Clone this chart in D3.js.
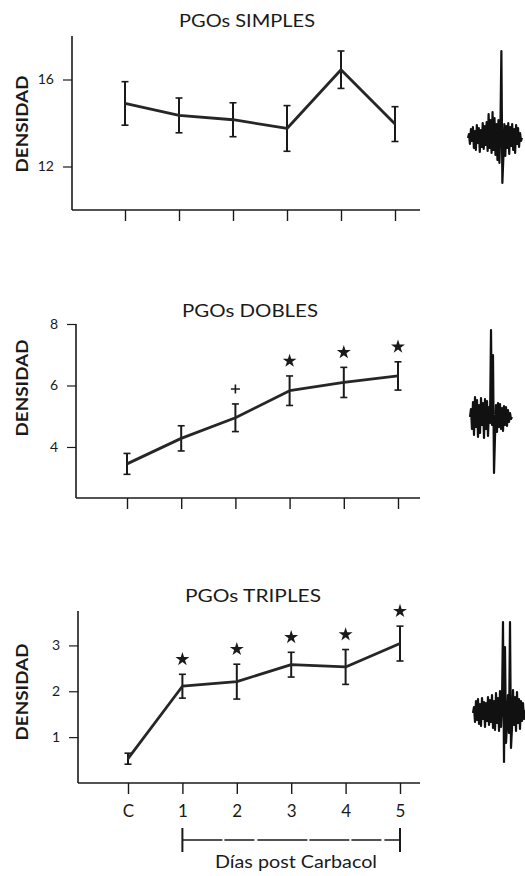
<!DOCTYPE html>
<html><head><meta charset="utf-8">
<script src="https://cdn.jsdelivr.net/npm/d3@7"></script>
<style>
html,body{margin:0;padding:0;background:#fff;}
svg{display:block;}
text{font-family:"Lato","Open Sans",sans-serif;fill:#1a1a1a;}
</style></head>
<body>
<svg id="c" width="525" height="876"></svg>
<script>
// ---------- data ----------
const days = ["C", "1", "2", "3", "4", "5"];

const simplesTitle = "PGOs SIMPLES";
const simplesMean = [14.9, 14.35, 14.15, 13.75, 16.45, 13.95];
const simplesErr  = [1.0, 0.8, 0.78, 1.05, 0.86, 0.8];
const simplesTicks = [12, 16];
const simplesDomain = [10, 18];
const simplesMarks = ["", "", "", "", "", ""];

const doblesTitle = "PGOs DOBLES";
const doblesMean = [3.45, 4.28, 4.95, 5.83, 6.1, 6.31];
const doblesErr  = [0.34, 0.41, 0.45, 0.48, 0.49, 0.46];
const doblesTicks = [4, 6, 8];
const doblesDomain = [2.34, 8];
const doblesMarks = ["", "", "+", "*", "*", "*"];

const triplesTitle = "PGOs TRIPLES";
const triplesMean = [0.53, 2.11, 2.21, 2.58, 2.53, 3.04];
const triplesErr  = [0.12, 0.26, 0.38, 0.27, 0.38, 0.38];
const triplesTicks = [1, 2, 3];
const triplesDomain = [0, 3.75];
const triplesMarks = ["", "*", "*", "*", "*", "*"];

const yLabel = "DENSIDAD";
const xLabel = "Días post Carbacol";

// example PGO waveforms (traced amplitudes, 1 sample per px)
const waveSimple = [0,4,-6,9,-3,11,-10,7,-12,13,-5,10,-14,8,-9,15,-11,12,-7,16,-13,24,-10,18,-15,26,-12,20,-17,14,-22,18,-25,10,87,-45,-20,14,-18,12,-10,15,-16,11,-8,14,-12,9,-15,13,-6,10,-9,5,-3,0];
const waveDoble = [0,8,-12,15,-18,20,-10,17,-20,12,-16,19,-8,14,-21,18,-12,16,-19,10,-6,87,-8,62,-56,-20,12,-15,14,-10,13,-12,9,-14,11,-8,10,-9,7,-5,4,-2,0];
const waveTriple = [0,6,-9,12,-7,14,-11,9,-13,15,-6,11,-14,10,-8,16,-12,13,-9,18,-15,12,-17,20,-10,15,-18,22,-14,10,91,-49,66,-30,-12,18,-20,91,-35,-15,23,-12,16,-18,21,-10,14,-16,12,-8,10,-6,3];

// ---------- layout ----------
const panels = [
  {title: simplesTitle, mean: simplesMean, err: simplesErr, ticks: simplesTicks, domain: simplesDomain, marks: simplesMarks,
   titleX: 247, titleY: 20, axisX: 72, xAxisY: 210, yTop: 36, x0: 125, x1: 395, labelY: 124, showX: false,
   wave: waveSimple, wx0: 468, wx1: 522, wBase: 138},
  {title: doblesTitle, mean: doblesMean, err: doblesErr, ticks: doblesTicks, domain: doblesDomain, marks: doblesMarks,
   titleX: 250, titleY: 310, axisX: 76, xAxisY: 498, yTop: 324, x0: 127, x1: 398, labelY: 388, showX: false,
   wave: waveDoble, wx0: 470, wx1: 512, wBase: 417},
  {title: triplesTitle, mean: triplesMean, err: triplesErr, ticks: triplesTicks, domain: triplesDomain, marks: triplesMarks,
   titleX: 253, titleY: 595, axisX: 78, xAxisY: 783, yTop: 611, x0: 128, x1: 400, labelY: 692, showX: true,
   wave: waveTriple, wx0: 473, wx1: 525, wBase: 713}
];
const axisRight = 420;
const ink = "#1a1a1a";

const svg = d3.select("#c");

panels.forEach(p => {
  const g = svg.append("g");
  const x = d3.scalePoint().domain(days).range([p.x0, p.x1]);
  const y = d3.scaleLinear().domain(p.domain).range([p.xAxisY, p.yTop]);

  // title
  g.append("text").attr("x", p.titleX).attr("y", p.titleY + 6.5)
    .attr("text-anchor", "middle").attr("font-size", 17)
    .attr("textLength", 136).attr("lengthAdjust", "spacingAndGlyphs")
    .text(p.title);

  // y label
  g.append("text").attr("transform", `translate(${27.5},${p.labelY}) rotate(-90)`)
    .attr("text-anchor", "middle").attr("font-size", 17).attr("font-weight", 700)
    .attr("textLength", 97).attr("lengthAdjust", "spacingAndGlyphs")
    .text(yLabel);

  // axes lines
  g.append("line").attr("x1", p.axisX).attr("x2", p.axisX)
    .attr("y1", y.range()[1]).attr("y2", p.xAxisY)
    .attr("stroke", ink).attr("stroke-width", 1.6);
  g.append("line").attr("x1", p.axisX).attr("x2", axisRight)
    .attr("y1", p.xAxisY).attr("y2", p.xAxisY)
    .attr("stroke", ink).attr("stroke-width", 1.4);

  // y axis ticks
  const ya = g.append("g").attr("transform", `translate(${p.axisX},0)`)
    .call(d3.axisLeft(y).tickValues(p.ticks).tickSize(9).tickPadding(9).tickFormat(d3.format("d")));
  ya.select(".domain").remove();
  ya.selectAll("line").attr("stroke", ink).attr("stroke-width", 1.2);
  ya.selectAll("text").attr("font-size", 14).attr("fill", ink).attr("font-family", "Lato, sans-serif");

  // x axis ticks
  const xa = g.append("g").attr("transform", `translate(0,${p.xAxisY})`)
    .call(d3.axisBottom(x).tickSize(11).tickPadding(11).tickFormat(p.showX ? (d => d) : () => ""));
  xa.select(".domain").remove();
  xa.selectAll("line").attr("stroke", ink).attr("stroke-width", 1.4);
  xa.selectAll("text").attr("font-size", 17).attr("fill", ink).attr("font-family", "Lato, sans-serif");

  const pts = days.map((d, i) => ({d, m: p.mean[i], e: p.err[i], mark: p.marks[i]}));

  // error bars
  const eb = g.append("g").selectAll("g").data(pts).join("g");
  eb.append("line").attr("x1", d => x(d.d)).attr("x2", d => x(d.d))
    .attr("y1", d => y(d.m + d.e)).attr("y2", d => y(d.m - d.e))
    .attr("stroke", ink).attr("stroke-width", 2);
  [1, -1].forEach(s => {
    eb.append("line").attr("x1", d => x(d.d) - 3.5).attr("x2", d => x(d.d) + 3.5)
      .attr("y1", d => y(d.m + s * d.e)).attr("y2", d => y(d.m + s * d.e))
      .attr("stroke", ink).attr("stroke-width", 1.6);
  });

  // mean line
  g.append("path").datum(pts)
    .attr("d", d3.line().x(d => x(d.d)).y(d => y(d.m)))
    .attr("fill", "none").attr("stroke", "#262626").attr("stroke-width", 2.8)
    .attr("stroke-linejoin", "round");

  // significance marks
  const mk = g.append("g").selectAll("g").data(pts.filter(d => d.mark)).join("g")
    .attr("transform", d => `translate(${x(d.d)},${y(d.m + d.e) - 15})`);
  mk.filter(d => d.mark === "*").append("path")
    .attr("d", d3.symbol(d3.symbolStar).size(60)).attr("fill", ink);
  mk.filter(d => d.mark === "+").append("path")
    .attr("d", "M-4.5,0H4.5M0,-4.5V4.5").attr("stroke", ink).attr("stroke-width", 1.6);

  // waveform
  const wx = d3.scaleLinear().domain([0, p.wave.length - 1]).range([p.wx0, p.wx1]);
  const wy = d3.scaleLinear().domain([0, 1]).range([p.wBase, p.wBase - 1]);
  g.append("path").datum(p.wave)
    .attr("d", d3.line().x((d, i) => wx(i)).y(d => wy(d)))
    .attr("fill", "none").attr("stroke", "#111").attr("stroke-width", 2.2)
    .attr("stroke-linejoin", "round");

  // bracket for last panel
  if (p.showX) {
    const by = 840;
    const bx0 = x(days[1]), bx1 = x(days[days.length - 1]);
    g.append("line").attr("x1", bx0).attr("x2", bx1).attr("y1", by).attr("y2", by)
      .attr("stroke", ink).attr("stroke-width", 1.3).attr("stroke-dasharray", "40 2 30 3 50 2");
    [bx0, bx1].forEach(bx => g.append("line").attr("x1", bx).attr("x2", bx)
      .attr("y1", by - 12).attr("y2", by + 12).attr("stroke", ink).attr("stroke-width", 2));
    g.append("text").attr("x", 296).attr("y", 868).attr("text-anchor", "middle")
      .attr("font-size", 18).attr("textLength", 162).attr("lengthAdjust", "spacingAndGlyphs")
      .text(xLabel);
  }
});
</script>
</body></html>
